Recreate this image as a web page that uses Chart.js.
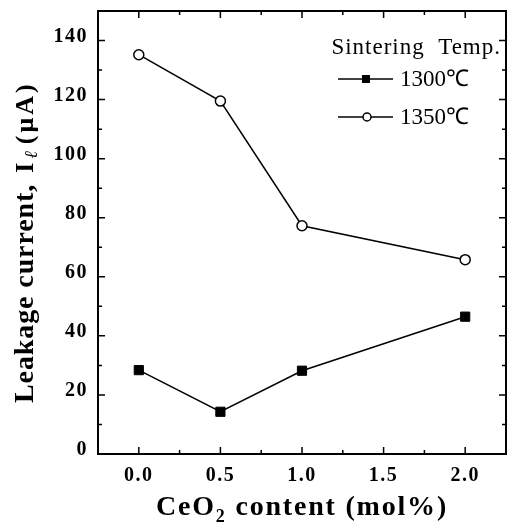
<!DOCTYPE html>
<html>
<head>
<meta charset="utf-8">
<script src="https://cdn.jsdelivr.net/npm/chart.js@4/dist/chart.umd.min.js"></script>
<style>
  html, body { margin: 0; padding: 0; background: #fff; }
  #wrap { width: 507px; height: 526px; }
</style>
</head>
<body>
<div id="wrap"><canvas id="chart" width="507" height="526"></canvas></div>
<script>
// data
const ceo2Content = [0.0, 0.5, 1.0, 2.0];
const current1300 = [28.4, 14.3, 28.2, 46.5];
const current1350 = [135.2, 119.5, 77.3, 65.8];
const seriesNames = ['1300\u2103', '1350\u2103'];
const legendTitle = 'Sintering  Temp.';

const xTicks = [0.0, 0.5, 1.0, 1.5, 2.0];
const xMinorTicks = [-0.25, 0.25, 0.75, 1.25, 1.75, 2.25];
const yTicks = [0, 20, 40, 60, 80, 100, 120, 140];
const yMinorTicks = [10, 30, 50, 70, 90, 110, 130, 150];

const serif = '"Liberation Serif", "Times New Roman", serif';

function toPoints(xs, ys) {
    return xs.map((x, i) => ({ x: x, y: ys[i] }));
}

function noPadding(s) {
    s.paddingTop = 0;
    s.paddingBottom = 0;
    s.paddingLeft = 0;
    s.paddingRight = 0;
}

// frame, inward ticks, axis titles and legend
const decorations = {
    id: 'decorations',
    beforeDraw(chart) {
        chart.ctx.letterSpacing = '1.5px';
    },
    afterDraw(chart) {
        const ctx = chart.ctx;
        const area = chart.chartArea;
        const xs = chart.scales.x;
        const ys = chart.scales.y;
        ctx.save();
        ctx.strokeStyle = '#000';
        ctx.fillStyle = '#000';

        ctx.lineWidth = 2;
        ctx.strokeRect(area.left, area.top, area.right - area.left, area.bottom - area.top);

        ctx.lineWidth = 1.5;
        ctx.beginPath();
        xTicks.concat(xMinorTicks).forEach(v => {
            const len = xTicks.includes(v) ? 7 : 4;
            const px = xs.getPixelForValue(v);
            ctx.moveTo(px, area.bottom); ctx.lineTo(px, area.bottom - len);
            ctx.moveTo(px, area.top); ctx.lineTo(px, area.top + len);
        });
        yTicks.concat(yMinorTicks).forEach(v => {
            const len = yTicks.includes(v) ? 7 : 4;
            const py = ys.getPixelForValue(v);
            ctx.moveTo(area.left, py); ctx.lineTo(area.left + len, py);
            ctx.moveTo(area.right, py); ctx.lineTo(area.right - len, py);
        });
        ctx.stroke();

        // x title: CeO2 content (mol%)
        ctx.textAlign = 'left';
        ctx.textBaseline = 'alphabetic';
        ctx.letterSpacing = '1.8px';
        const partA = 'CeO', partB = ' content (mol%)';
        ctx.font = 'bold 18px ' + serif;
        const subW = ctx.measureText('2').width;
        ctx.font = 'bold 28px ' + serif;
        const wA = ctx.measureText(partA).width, wB = ctx.measureText(partB).width;
        const x0 = (area.left + area.right) / 2 - (wA + subW + wB) / 2;
        const base = 515;
        ctx.fillText(partA, x0, base);
        ctx.font = 'bold 18px ' + serif;
        ctx.fillText('2', x0 + wA, base + 7);
        ctx.font = 'bold 28px ' + serif;
        ctx.fillText(partB, x0 + wA + subW, base);

        // y title: Leakage current, I_l (uA)
        ctx.save();
        ctx.translate(33, 403);
        ctx.rotate(-Math.PI / 2);
        ctx.letterSpacing = '0.9px';
        ctx.font = 'bold 28px ' + serif;
        const yA = 'Leakage current,';
        ctx.fillText(yA, 0, 0);
        let pos = ctx.measureText(yA).width + 11;
        ctx.letterSpacing = '3px';
        ctx.font = 'bold 26px ' + serif;
        ctx.fillText('I', pos, 0);
        pos += ctx.measureText('I').width + 1;
        ctx.font = 'italic 18px ' + serif;
        ctx.fillText('\u2113', pos, 4);
        pos += ctx.measureText('\u2113').width + 4;
        ctx.font = 'bold 26px ' + serif;
        ctx.fillText('(\u03bcA)', pos, 0);
        ctx.restore();

        // legend
        ctx.letterSpacing = '1px';
        ctx.font = '23px ' + serif;
        ctx.textAlign = 'right';
        ctx.textBaseline = 'middle';
        ctx.fillText(legendTitle, area.right - 5, 48);
        ctx.textAlign = 'left';
        ctx.letterSpacing = '0px';
        const rows = [79, 117];
        chart.data.datasets.forEach((ds, i) => {
            const y = rows[i];
            const lx = area.right - 168;
            ctx.lineWidth = 1.5;
            ctx.strokeStyle = '#000';
            ctx.beginPath();
            ctx.moveTo(lx, y); ctx.lineTo(lx + 55, y);
            ctx.stroke();
            ctx.beginPath();
            if (ds.pointStyle === 'rect') {
                ctx.fillStyle = '#000';
                ctx.fillRect(lx + 24, y - 4, 8, 8);
            } else {
                ctx.fillStyle = '#fff';
                ctx.arc(lx + 29, y, 4, 0, Math.PI * 2);
                ctx.fill();
                ctx.stroke();
            }
            ctx.fillStyle = '#000';
            ctx.fillText(ds.label, lx + 62, y + 1);
        });
        ctx.restore();
    }
};

new Chart(document.getElementById('chart'), {
    type: 'line',
    data: {
        datasets: [
            {
                label: seriesNames[0],
                data: toPoints(ceo2Content, current1300),
                borderColor: '#000',
                borderWidth: 1.5,
                pointStyle: 'rect',
                pointRadius: 6.5,
                pointBackgroundColor: '#000',
                pointBorderColor: '#000',
                pointBorderWidth: 1
            },
            {
                label: seriesNames[1],
                data: toPoints(ceo2Content, current1350),
                borderColor: '#000',
                borderWidth: 1.5,
                pointStyle: 'circle',
                pointRadius: 5,
                pointBackgroundColor: '#fff',
                pointBorderColor: '#000',
                pointBorderWidth: 1.5
            }
        ]
    },
    options: {
        responsive: false,
        devicePixelRatio: 1,
        animation: false,
        layout: { autoPadding: false, padding: { top: 11, right: 1, left: 0, bottom: 0 } },
        plugins: { legend: { display: false }, tooltip: { enabled: false } },
        scales: {
            x: {
                type: 'linear',
                min: -0.25,
                max: 2.25,
                afterBuildTicks: s => { s.ticks = xTicks.map(v => ({ value: v })); },
                afterFit: s => { s.height = 72; noPadding(s); },
                grid: { display: false, drawTicks: false },
                border: { display: false },
                ticks: {
                    padding: 10,
                    color: '#000',
                    font: { family: serif, size: 20, weight: 'bold' },
                    callback: v => v.toFixed(1)
                }
            },
            y: {
                type: 'linear',
                min: 0,
                max: 150,
                afterBuildTicks: s => { s.ticks = yTicks.map(v => ({ value: v })); },
                afterFit: s => { s.width = 98; noPadding(s); },
                grid: { display: false, drawTicks: false },
                border: { display: false },
                ticks: {
                    padding: 10,
                    labelOffset: -4,
                    color: '#000',
                    font: { family: serif, size: 20, weight: 'bold' }
                }
            }
        }
    },
    plugins: [decorations]
});
</script>
</body>
</html>
